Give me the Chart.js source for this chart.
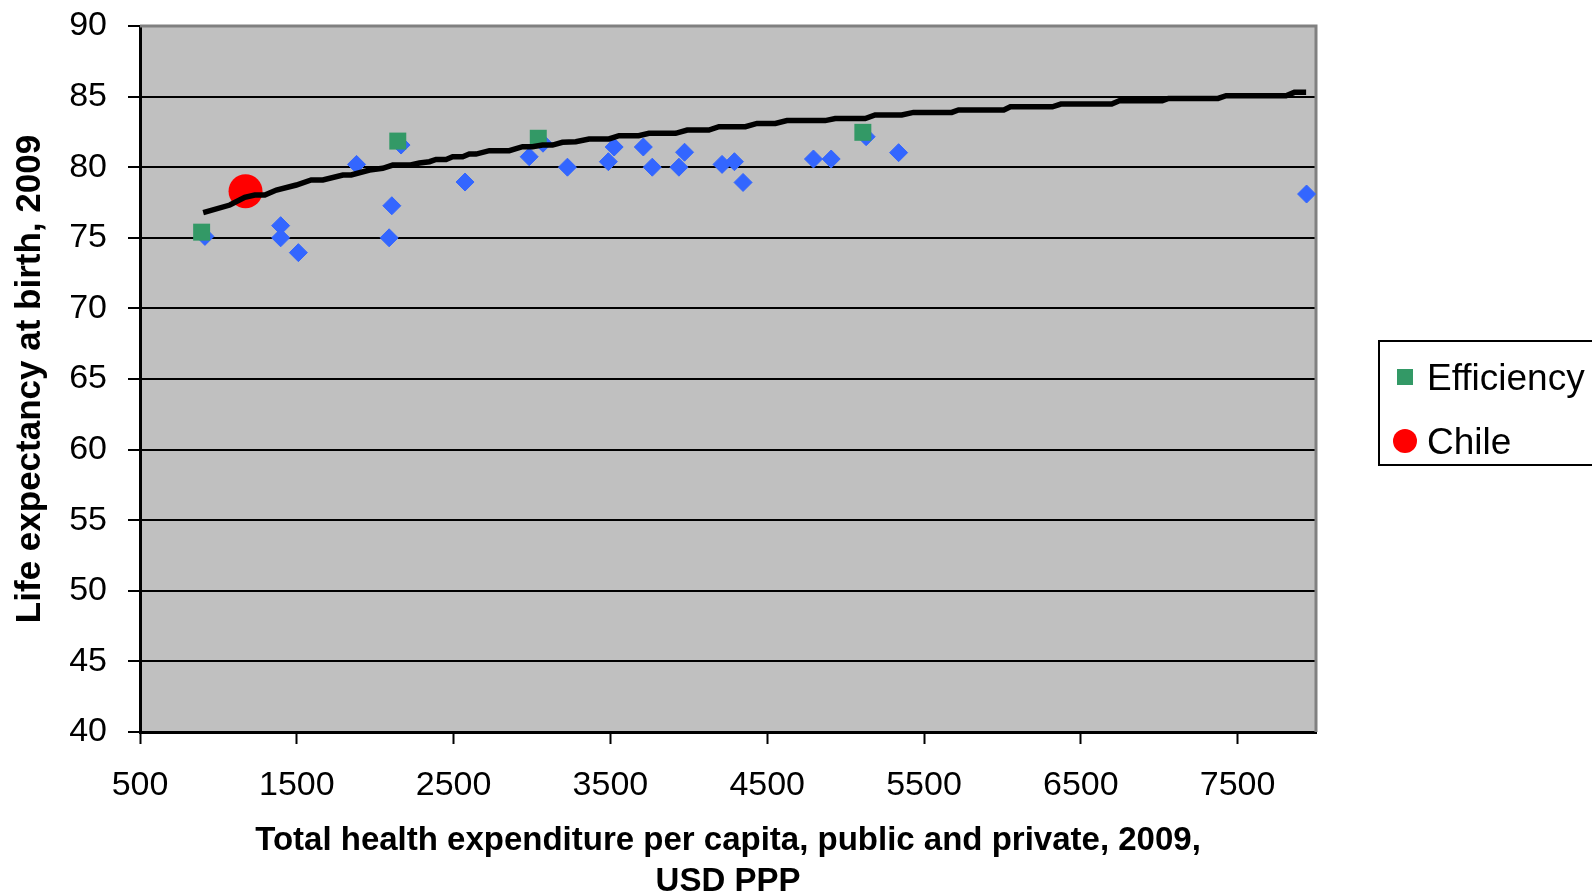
<!DOCTYPE html>
<html>
<head>
<meta charset="utf-8">
<script src="https://cdn.jsdelivr.net/npm/chart.js@4.4.1/dist/chart.umd.min.js"></script>
<style>
  html, body { margin: 0; padding: 0; background: #fff; }
  #wrap { width: 1592px; height: 896px; }
</style>
</head>
<body>
<div id="wrap"><canvas id="chart" width="1592" height="896"></canvas></div>
<script>
// OECD countries (blue diamonds): spending per capita vs life expectancy
const countryX = [914, 1397, 1397, 1510, 1881, 2165, 2106, 2089, 2573, 2982, 3070, 3226, 3487,
                  3524, 3710, 3767, 3937, 3973, 4212, 4291, 4346, 4795, 4908, 5131, 5338, 7940];
const countryY = [75.1, 75.86, 75.0, 73.95, 80.2, 81.57, 77.27, 75.0, 78.95, 80.74, 81.7, 80.0, 80.39,
                  81.43, 81.43, 80.0, 80.0, 81.06, 80.2, 80.39, 78.92, 80.58, 80.58, 82.16, 81.03, 78.1];

// efficient countries (green squares)
const effX = [893, 2144, 3040, 5110];
const effY = [75.4, 81.85, 82.05, 82.47];

const chileX = [1173];
const chileY = [78.3];

// efficiency frontier (stepped black line)
const frontierX = [903, 1073, 1168, 1232, 1296, 1370, 1497, 1592, 1666, 1794, 1847, 1964, 2048, 2112, 2219,
                   2282, 2346, 2388, 2452, 2494, 2558, 2600, 2643, 2728, 2855, 2940, 3003, 3067, 3131, 3194,
                   3279, 3364, 3491, 3555, 3680, 3746, 3916, 3990, 4128, 4192, 4361, 4435, 4552, 4626, 4870,
                   4934, 5125, 5188, 5358, 5433, 5677, 5720, 6009, 6051, 6319, 6373, 6697, 6746, 7019, 7059,
                   7375, 7427, 7809, 7862, 7937];
const frontierY = [76.78, 77.32, 77.87, 78.03, 78.03, 78.38, 78.74, 79.1, 79.1, 79.45, 79.45, 79.8, 79.92, 80.15, 80.15,
                   80.3, 80.39, 80.55, 80.55, 80.74, 80.74, 80.93, 80.93, 81.17, 81.17, 81.45, 81.45, 81.57, 81.57, 81.76,
                   81.8, 82.0, 82.0, 82.23, 82.23, 82.4, 82.4, 82.63, 82.63, 82.87, 82.87, 83.1, 83.1, 83.3, 83.3,
                   83.45, 83.45, 83.7, 83.7, 83.88, 83.88, 84.05, 84.05, 84.28, 84.28, 84.47, 84.47, 84.7, 84.7, 84.87,
                   84.87, 85.06, 85.06, 85.3, 85.3];

const xTicks = [500, 1500, 2500, 3500, 4500, 5500, 6500, 7500];

const toPoints = (xs, ys) => xs.map((x, i) => ({ x: x, y: ys[i] }));

const FONT = '"Liberation Sans", Arial, sans-serif';

// grey plot area with a grey frame on top and right, like the spreadsheet original
const plotArea = {
    id: 'plotArea',
    beforeDraw(chart) {
        const { ctx, chartArea: a } = chart;
        ctx.save();
        ctx.fillStyle = '#c0c0c0';
        ctx.fillRect(a.left, a.top, a.right - a.left, a.bottom - a.top);
        ctx.restore();
    },
    beforeDatasetsDraw(chart) {
        const { ctx, chartArea: a } = chart;
        ctx.save();
        ctx.strokeStyle = '#808080';
        ctx.lineWidth = 3;
        ctx.beginPath();
        ctx.moveTo(a.left, a.top);
        ctx.lineTo(a.right, a.top);
        ctx.lineTo(a.right, a.bottom);
        ctx.stroke();
        ctx.restore();
    }
};

// boxed legend on the right (only efficiency and Chile are listed)
const boxLegend = {
    id: 'boxLegend',
    afterDraw(chart) {
        const ctx = chart.ctx;
        const eff = chart.data.datasets[2];
        const chile = chart.data.datasets[1];
        ctx.save();
        ctx.strokeStyle = '#000';
        ctx.lineWidth = 2;
        ctx.strokeRect(1379, 341, 240, 124);

        ctx.fillStyle = eff.backgroundColor;
        ctx.fillRect(1397, 369, 16, 16);
        ctx.fillStyle = chile.backgroundColor;
        ctx.beginPath();
        ctx.arc(1405, 441, 12, 0, Math.PI * 2);
        ctx.fill();

        ctx.fillStyle = '#000';
        ctx.font = '37px ' + FONT;
        ctx.textBaseline = 'alphabetic';
        ctx.fillText(eff.label, 1427, 390);
        ctx.fillText(chile.label, 1427, 454);
        ctx.restore();
    }
};

new Chart(document.getElementById('chart'), {
    type: 'scatter',
    data: {
        datasets: [
            {
                label: 'Frontier',
                data: toPoints(frontierX, frontierY),
                showLine: true,
                borderColor: '#000',
                borderWidth: 5.5,
                pointRadius: 0,
                tension: 0,
                clip: false,
                order: 0
            },
            {
                label: 'Chile',
                data: toPoints(chileX, chileY),
                backgroundColor: '#ff0000',
                borderColor: '#ff0000',
                pointRadius: 17,
                borderWidth: 0,
                clip: false,
                order: 1
            },
            {
                label: 'Efficiency',
                data: toPoints(effX, effY),
                pointStyle: 'rect',
                backgroundColor: '#339966',
                borderColor: '#339966',
                pointRadius: 12,
                borderWidth: 0,
                clip: false,
                order: 2
            },
            {
                label: 'Countries',
                data: toPoints(countryX, countryY),
                pointStyle: 'rectRot',
                backgroundColor: '#3366ff',
                borderColor: '#3366ff',
                pointRadius: 9,
                borderWidth: 1,
                clip: false,
                order: 3
            }
        ]
    },
    options: {
        responsive: false,
        devicePixelRatio: 1,
        animation: false,
        layout: { padding: { top: 26, right: 276, left: 0, bottom: 0 } },
        plugins: {
            legend: { display: false },
            tooltip: { enabled: false }
        },
        scales: {
            x: {
                type: 'linear',
                position: 'bottom',
                min: 500,
                max: 8000,
                afterBuildTicks: s => { s.ticks = xTicks.map(v => ({ value: v })); },
                afterFit: s => { s.height = 164; s.paddingLeft = 0; s.paddingRight = 0; },
                ticks: {
                    color: '#000',
                    font: { family: FONT, size: 34 },
                    padding: 21,
                    maxRotation: 0,
                    autoSkip: false,
                    callback: v => String(v)
                },
                grid: { drawOnChartArea: false, drawTicks: true, tickLength: 12, tickColor: '#000', tickWidth: 2 },
                border: { display: true, color: '#000', width: 3 },
                title: {
                    display: true,
                    text: ['Total health expenditure per capita, public and private, 2009,', 'USD PPP'],
                    color: '#000',
                    font: { family: FONT, size: 33, weight: 'bold', lineHeight: 1.24 },
                    padding: { top: 0, bottom: -6 }
                }
            },
            y: {
                min: 40,
                max: 90,
                afterFit: s => { s.width = 140; s.paddingTop = 0; s.paddingBottom = 0; },
                ticks: { stepSize: 5, color: '#000', font: { family: FONT, size: 34 }, padding: 21 },
                grid: {
                    color: c => (c.tick && c.tick.value === 90) ? '#808080' : '#000',
                    lineWidth: 2,
                    tickLength: 12,
                    tickColor: '#000',
                    tickWidth: 2
                },
                border: { display: true, color: '#000', width: 3 },
                title: {
                    display: true,
                    text: 'Life expectancy at birth, 2009',
                    color: '#000',
                    font: { family: FONT, size: 35, weight: 'bold' },
                    padding: { top: 9, bottom: 0 }
                }
            }
        }
    },
    plugins: [plotArea, boxLegend]
});
</script>
</body>
</html>
